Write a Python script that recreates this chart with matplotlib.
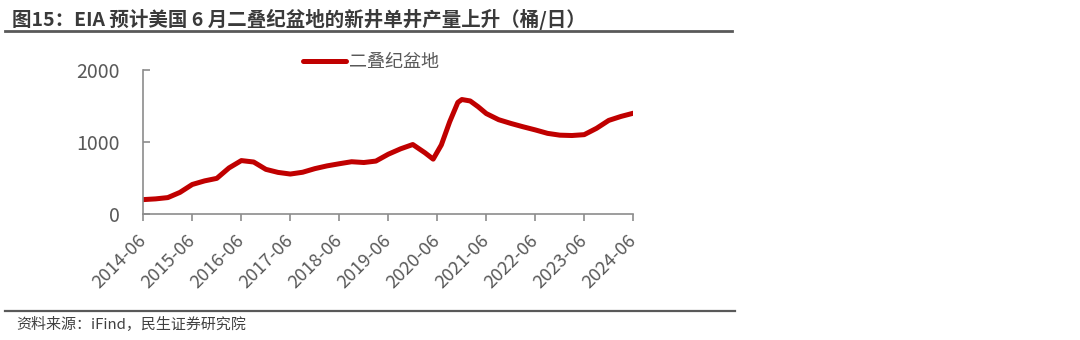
import matplotlib
matplotlib.use("Agg")
import matplotlib.pyplot as plt
import matplotlib.dates as mdates
from matplotlib.lines import Line2D
import pandas as pd

plt.rcParams['font.family'] = ['Noto Sans CJK SC', 'DejaVu Sans']

# ---- data ----
dates = ["2014-06", "2014-09", "2014-12", "2015-03", "2015-06", "2015-09", "2015-12",
         "2016-03", "2016-06", "2016-09", "2016-12", "2017-03", "2017-06", "2017-09",
         "2017-12", "2018-03", "2018-06", "2018-09", "2018-12", "2019-03", "2019-06",
         "2019-09", "2019-12", "2020-03", "2020-05", "2020-07", "2020-09", "2020-11",
         "2020-12", "2021-02", "2021-04", "2021-06", "2021-09", "2021-12", "2022-03",
         "2022-06", "2022-09", "2022-12", "2023-03", "2023-06", "2023-09", "2023-12",
         "2024-03", "2024-06"]
values = [200, 210, 228, 300, 410, 460, 495,
          640, 742, 722, 620, 578, 555, 580,
          630, 668, 698, 726, 715, 735, 830,
          905, 965, 850, 762, 960, 1280, 1550,
          1590, 1570, 1490, 1395, 1310, 1258, 1212,
          1168, 1120, 1095, 1090, 1102, 1190, 1300,
          1355, 1400]
series_name = "二叠纪盆地"
xtick_labels = ["2014-06", "2015-06", "2016-06", "2017-06", "2018-06", "2019-06",
                "2020-06", "2021-06", "2022-06", "2023-06", "2024-06"]
yticks = [0, 1000, 2000]
title = "图15：EIA 预计美国 6 月二叠纪盆地的新井单井产量上升（桶/日）"
source = "资料来源：iFind，民生证券研究院"

x = pd.to_datetime(dates)
xt = pd.to_datetime(xtick_labels)

W, H = 1080, 340
fig = plt.figure(figsize=(W / 100, H / 100), dpi=100)
ax = fig.add_axes([143.3 / W, 1 - 214 / H, (633.3 - 143.3) / W, (214 - 70) / H])

line, = ax.plot(x, values, color="#C00000", lw=3.6, solid_joinstyle="round",
                solid_capstyle="round", label=series_name)

ax.set_xlim(xt[0], xt[-1])
ax.set_ylim(0, 2000)
ax.set_yticks(yticks)
ax.set_xticks(xt)
ax.set_xticklabels(xtick_labels, rotation=45, ha="right", va="center",
                   rotation_mode="anchor")

for s in ["top", "right"]:
    ax.spines[s].set_visible(False)
for s in ["left", "bottom"]:
    ax.spines[s].set_color("#8C8C8C")
    ax.spines[s].set_linewidth(1.2)

ax.tick_params(axis="y", direction="in", length=5, width=1.2, color="#8C8C8C",
               labelsize=14, labelcolor="#595959", pad=17)
ax.tick_params(axis="x", direction="out", length=5, width=1.2, color="#8C8C8C",
               labelsize=13.2, labelcolor="#595959", pad=12)

leg = fig.legend(handles=[line], loc="center", bbox_to_anchor=(371 / W, 1 - 62 / H),
                 frameon=False, fontsize=13, handlelength=2.4, handletextpad=0.2,
                 labelcolor="#595959")

fig.text(12 / W, 1 - 19 / H, title, fontsize=14, fontweight="bold", color="#3A3A3A",
         ha="left", va="center")
fig.add_artist(Line2D([5 / W, 732 / W], [1 - 31 / H, 1 - 31 / H], color="#595959", lw=2.0))
fig.add_artist(Line2D([5 / W, 735 / W], [1 - 311 / H, 1 - 311 / H], color="#595959", lw=1.6))
fig.text(16 / W, 1 - 325 / H, source, fontsize=10.8, color="#404040", ha="left", va="center")

fig.savefig("out.png", dpi=100)
